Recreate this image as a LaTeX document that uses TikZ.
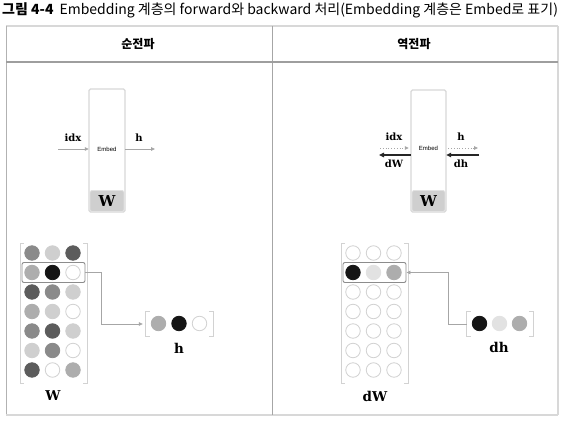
\documentclass[tikz,border=0pt]{standalone}
\usepackage{fontspec}
\setmainfont{DejaVu Serif}
\newfontfamily\kr{Noto Sans CJK KR}
\newfontfamily\embfont{Liberation Sans}
\usetikzlibrary{arrows.meta}
\definecolor{dk}{HTML}{5C5C5C}
\definecolor{md}{HTML}{8A8A8A}
\definecolor{gy}{HTML}{ADADAD}
\definecolor{lt}{HTML}{CFCFCF}
\definecolor{bk}{HTML}{151515}
\definecolor{vl}{HTML}{E2E2E2}
\definecolor{ol}{HTML}{D2D2D2}
\definecolor{frame}{HTML}{D8D8D8}
\tikzset{
  x=1pt, y=-1pt,
  dot/.style={circle, minimum size=14.5pt, inner sep=0pt, line width=0.8pt},
  cdk/.style={fill=dk, draw=dk}, cmd/.style={fill=md, draw=md},
  cgy/.style={fill=gy, draw=gy}, clt/.style={fill=lt, draw=lt},
  cbk/.style={fill=bk, draw=bk}, cvl/.style={fill=vl, draw=vl},
  cwh/.style={fill=white, draw=ol},
  hl/.style={draw=black!45, rounded corners=2pt, line width=0.9pt, minimum width=63pt, minimum height=20pt, inner sep=0pt},
  brk/.style={draw=ol, line width=0.8pt},
  emb/.style={draw=frame, rounded corners=1.5pt, line width=1.2pt},
  wbox/.style={fill=lt, draw=vl, rounded corners=1.5pt, line width=0.8pt, inner sep=0pt, font=\bfseries\fontsize{15}{15}\selectfont},
  lab/.style={font=\bfseries\fontsize{10}{10}\selectfont, inner sep=0pt},
  biglab/.style={font=\bfseries\fontsize{13.5}{13.5}\selectfont, inner sep=0pt},
  fwd/.style={draw=black!35, line width=0.8pt, -{Triangle[length=4pt,width=3.5pt]}},
  fwdd/.style={draw=black!35, line width=0.8pt, dotted, -{Triangle[length=4pt,width=3.5pt]}},
  bwd/.style={draw=black!85, line width=1.1pt, -{Triangle[length=5pt,width=4.5pt]}},
  conn/.style={draw=black!35, line width=0.7pt, -{Triangle[length=4pt,width=3.5pt]}},
  head/.style={font=\kr\bfseries\fontsize{12}{12}\selectfont, inner sep=0pt},
}
\begin{document}
\begin{tikzpicture}
\useasboundingbox (0,0) rectangle (566,425);
\fill[white] (0,0) rectangle (566,425);
% title
\node[anchor=west, inner sep=0pt, font=\kr\fontsize{14}{14}\selectfont] (title) at (2,10)
  {{\bfseries 그림 4-4}\hspace{6pt}Embedding 계층의 forward와 backward 처리(Embedding 계층은 Embed로 표기)};
% table
\draw[frame, line width=1.3pt] (6,26) -- (558,26);
\draw[black!30, line width=0.8pt] (6,26) -- (6,415);
\draw[frame, line width=1.1pt] (558,26) -- (558,415);
\draw[frame, line width=1.1pt] (6,415) -- (558,415);
\draw[black!35, line width=0.8pt] (272,26) -- (272,415);
\draw[black!38, line width=1.5pt] (6,62) -- (558,62);
\node[head] (hL) at (138,44) {순전파};
\node[head] (hR) at (414,44) {역전파};

% ===== left: forward =====
\path[emb] (89,89) rectangle (125,212);
\node[inner sep=0pt, minimum width=36pt, minimum height=123pt] (embL) at (107,150.5) {};
\node[wbox, minimum width=34pt, minimum height=21pt] (WL) at (107,201) {W};
\node[inner sep=0pt, font=\embfont\fontsize{6}{6}\selectfont] (eL) at (107,149) {Embed};
\coordinate (idxLs) at (58,149);
\coordinate (hLe) at (155,149);
\draw[fwd] (idxLs) -- (embL.west |- idxLs);
\draw[fwd] (embL.east |- hLe) -- (hLe);
\node[lab] (idxL) at (73,138) {idx};
\node[lab] (hlabL) at (139,138) {h};

% left matrix
\foreach \r/\a/\b/\c in {1/md/lt/dk, 2/gy/bk/wh, 3/dk/md/lt, 4/gy/lt/wh, 5/md/dk/lt, 6/lt/md/wh, 7/dk/wh/gy} {
  \node[dot, c\a] (L-\r-1) at (32, {253+19.5*(\r-1)}) {};
  \node[dot, c\b] (L-\r-2) at (52.5, {253+19.5*(\r-1)}) {};
  \node[dot, c\c] (L-\r-3) at (73, {253+19.5*(\r-1)}) {};
}
\draw[brk] (24,243) -- (20,243) -- (20,383) -- (24,383);
\draw[brk] (83,243) -- (87,243) -- (87,383) -- (83,383);
\node[hl] (hlL) at (53.5,272.5) {};
\node[biglab] (WlabL) at (53,396) {W};

% h vector
\node[minimum width=67pt, minimum height=24pt, inner sep=0pt] (hvec) at (179.5,324) {};
\draw[brk] ([xshift=4pt]hvec.north west) -- (hvec.north west) -- (hvec.south west) -- ([xshift=4pt]hvec.south west);
\draw[brk] ([xshift=-4pt]hvec.north east) -- (hvec.north east) -- (hvec.south east) -- ([xshift=-4pt]hvec.south east);
\node[dot, cgy] (h1) at (158.5,323.5) {};
\node[dot, cbk] (h2) at (179,323.5) {};
\node[dot, cwh] (h3) at (199.5,323.5) {};
\node[biglab] (hlab) at (179,348) {h};
\draw[conn, shorten >=3pt] (hlL.east) -- ++(16,0) |- (hvec.west);

% ===== right: backward =====
\path[emb] (411,90) rectangle (446,212);
\node[inner sep=0pt, minimum width=35pt, minimum height=122pt] (embR) at (428.5,151) {};
\node[wbox, minimum width=33pt, minimum height=21pt] (WR) at (428.5,201) {W};
\node[inner sep=0pt, font=\embfont\fontsize{6}{6}\selectfont] (eR) at (428.5,148) {Embed};
\coordinate (idxRs) at (380,148);
\coordinate (dWRe) at (379,155);
\coordinate (hRe) at (478,148);
\coordinate (dhRs) at (479,155);
\draw[fwdd] (idxRs) -- ([xshift=-2pt]embR.west |- idxRs);
\draw[fwdd] ([xshift=2pt]embR.east |- hRe) -- (hRe);
\draw[bwd] (embR.west |- dWRe) -- (dWRe);
\draw[bwd] (dhRs) -- (embR.east |- dhRs);
\node[lab] (idxR) at (394,137) {idx};
\node[lab] (dWsR) at (394,164) {dW};
\node[lab] (hsR) at (461,137) {h};
\node[lab] (dhsR) at (461,164) {dh};

% right matrix
\foreach \r/\a/\b/\c in {1/wh/wh/wh, 2/bk/vl/gy, 3/wh/wh/wh, 4/wh/wh/wh, 5/wh/wh/wh, 6/wh/wh/wh, 7/wh/wh/wh} {
  \node[dot, c\a] (R-\r-1) at (353, {253+19.5*(\r-1)}) {};
  \node[dot, c\b] (R-\r-2) at (373.5, {253+19.5*(\r-1)}) {};
  \node[dot, c\c] (R-\r-3) at (394, {253+19.5*(\r-1)}) {};
}
\draw[brk] (345,243) -- (341,243) -- (341,383) -- (345,383);
\draw[brk] (404,243) -- (408,243) -- (408,383) -- (404,383);
\node[hl] (hlR) at (374.5,272.5) {};
\node[biglab] (WlabR) at (375,396) {dW};

% dh vector
\node[minimum width=66pt, minimum height=24pt, inner sep=0pt] (dhvec) at (500,324) {};
\draw[brk] ([xshift=4pt]dhvec.north west) -- (dhvec.north west) -- (dhvec.south west) -- ([xshift=4pt]dhvec.south west);
\draw[brk] ([xshift=-4pt]dhvec.north east) -- (dhvec.north east) -- (dhvec.south east) -- ([xshift=-4pt]dhvec.south east);
\node[dot, cbk] (dh1) at (479.5,323.5) {};
\node[dot, cvl] (dh2) at (499.5,323.5) {};
\node[dot, cgy] (dh3) at (519.5,323.5) {};
\node[biglab] (dhlab) at (499,347) {dh};
\draw[conn] (dhvec.west) -- ++(-18,0) |- (hlR.east);
\end{tikzpicture}
\end{document}
